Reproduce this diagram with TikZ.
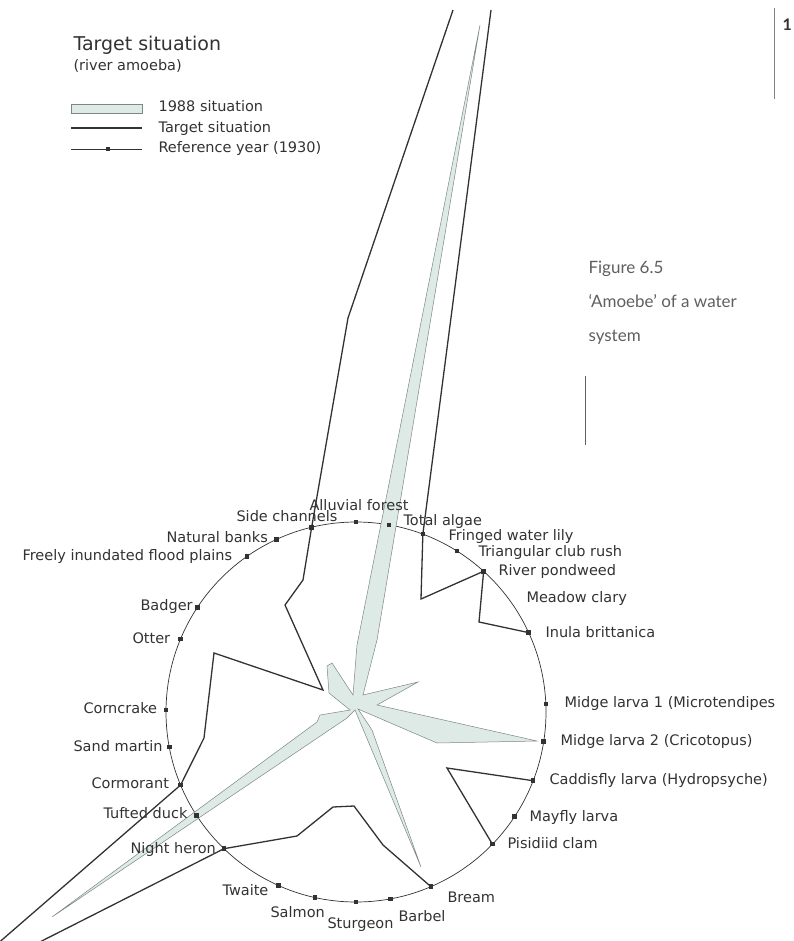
\documentclass[tikz,border=0pt]{standalone}
\usepackage{fontspec}
\setmainfont{DejaVu Sans}
\newfontfamily\capfont{Lato}
\usepackage{tikz}
\usetikzlibrary{calc}
\definecolor{amoebafill}{RGB}{221,234,230}
\definecolor{amoebaedge}{RGB}{125,135,132}
\definecolor{ink}{RGB}{50,50,50}
\definecolor{capgray}{RGB}{95,95,95}
\tikzset{every node/.append style={font=\fontsize{14.5}{17}\selectfont, text=ink}}
\tikzset{
  refmark/.style={rectangle, fill=ink, inner sep=0pt, minimum size=4.5pt},
  target/.style={line width=1.3pt, ink},
  situation/.style={fill=amoebafill, draw=amoebaedge, line width=0.5pt},
  caption/.style={anchor=base west, font=\capfont\fontsize{17}{20}\selectfont, text=capgray},
}

\begin{document}
\begin{tikzpicture}[x=1pt, y=-1pt]
    \useasboundingbox (0,0) rectangle (793,941);
    \clip (0,0) rectangle (793,941);
    \coordinate (ctr) at (356,712);
    \draw[ink, line width=0.7pt] (ctr) circle (190pt);
    \filldraw[situation] (480,25) -- (377,640) -- (363,695) -- (418,682) -- (377,705)
        -- (537,741) -- (437,743) -- (358,709) -- (372,730) -- (421,867) -- (355,710)
        -- (347,718) -- (52,917) -- (317,722) -- (320,715) -- (350,710) -- (329,693)
        -- (327,666) -- (332,663) -- (353,695) -- (357,645) -- cycle;
    \foreach \a/\n in {90/alluvial, 80/algae, 69.4/lily, 57.9/clubrush, 47.8/pondweed,
        24.7/inula, 2.4/midgeone, -9/midgetwo, -21.2/caddis, -33.4/mayfly, -44.1/clam,
        -66.8/bream, -79.6/barbel, -90/sturgeon, -102.5/salmon, -114/twaite, -134/heron,
        -147/tufted, -157.4/cormorant, -169.4/sandmartin, 179.4/corncrake, 157.4/otter,
        146.6/badger, 125/floodplain, 114.7/banks, 103.5/sidechan}
        \node[refmark] (\n) at ($(ctr)+(\a:190pt)$) {};
    \coordinate (topleft) at (453,10);
    \coordinate (topright) at (491,10);
    \coordinate (farleft) at (-57,991);
    \draw[target] (topleft) -- (348,318) -- (sidechan.center) -- (303,580) -- (285,605)
        -- (323,690) -- (214,653) -- (204,738) -- (cormorant.center) -- (farleft)
        -- (heron.center) -- (297,836) -- (333,807) -- (354,806) -- (383,845) -- (bream.center);
    \draw[target] (clam.center) -- (447,768) -- (caddis.center);
    \draw[target] (inula.center) -- (479,622) -- (pondweed.center) -- (421,599)
        -- (lily.center) -- (topright);

    \node[anchor=base west] (lballuvial) at (306,510) {Alluvial forest};
    \node[anchor=base west] (lbside) at (233,521) {Side channels};
    \node[anchor=base west] (lbalgae) at (400,525) {Total algae};
    \node[anchor=base west] (lblily) at (445,540) {Fringed water lily};
    \node[anchor=base west] (lbclub) at (475,556) {Triangular club rush};
    \node[anchor=base west] (lbpond) at (495,575) {River pondweed};
    \node[anchor=base west] (lbclary) at (523,602) {Meadow clary};
    \node[anchor=base west] (lbinula) at (542,637) {Inula brittanica};
    \node[anchor=base west] (lbmidgeone) at (561,707) {Midge larva 1 (Microtendipes};
    \node[anchor=base west] (lbmidgetwo) at (557,745) {Midge larva 2 (Cricotopus)};
    \node[anchor=base west] (lbcaddis) at (546,784) {Caddisfly larva (Hydropsyche)};
    \node[anchor=base west] (lbmayfly) at (526,821) {Mayfly larva};
    \node[anchor=base west] (lbclam) at (504,848) {Pisidiid clam};
    \node[anchor=base west] (lbbream) at (444,902) {Bream};
    \node[anchor=base west] (lbbarbel) at (395,921) {Barbel};
    \node[anchor=base west] (lbsturgeon) at (324,928) {Sturgeon};
    \node[anchor=base west] (lbsalmon) at (267,917) {Salmon};
    \node[anchor=base west] (lbtwaite) at (219,895) {Twaite};
    \node[anchor=base west] (lbheron) at (127,853) {Night heron};
    \node[anchor=base west] (lbtufted) at (100,818) {Tufted duck};
    \node[anchor=base west] (lbcormorant) at (88,788) {Cormorant};
    \node[anchor=base west] (lbsand) at (70,751) {Sand martin};
    \node[anchor=base west] (lbcorn) at (80,713) {Corncrake};
    \node[anchor=base west] (lbotter) at (129,643) {Otter};
    \node[anchor=base west] (lbbadger) at (137,610) {Badger};
    \node[anchor=base west] (lbflood) at (19,560) {Freely inundated flood plains};
    \node[anchor=base west] (lbbanks) at (163,542) {Natural banks};

    \node[anchor=base west, font=\fontsize{19}{22}\selectfont] (title) at (70,51) {Target situation};
    \node[anchor=base west] (subtitle) at (70,71) {(river amoeba)};
    \filldraw[situation] (71,104) rectangle (142,113);
    \node[anchor=base west] (legfill) at (155,112) {1988 situation};
    \draw[target] (71,128) -- (142,128);
    \node[anchor=base west] (legtarget) at (155,133) {Target situation};
    \draw[ink, line width=0.7pt] (71,149) -- (142,149);
    \node[refmark] (legmark) at (108,149) {};
    \node[anchor=base west] (legref) at (155,153) {Reference year (1930)};

    \node[caption] (figno) at (585,273) {Figure 6.5};
    \node[caption] (figtitle) at (585,307) {‘Amoebe’ of a water};
    \node[caption] (figtitletwo) at (585,341) {system};
    \draw[capgray, line width=0.6pt] (585,376) -- (585,445);
    \draw[gray, line width=0.5pt] (774,8) -- (774,99);
    \node[anchor=base east, inner sep=0pt, font=\capfont\bfseries\fontsize{16}{19}\selectfont] (pageno) at (792,31) {1};
\end{tikzpicture}
\end{document}
